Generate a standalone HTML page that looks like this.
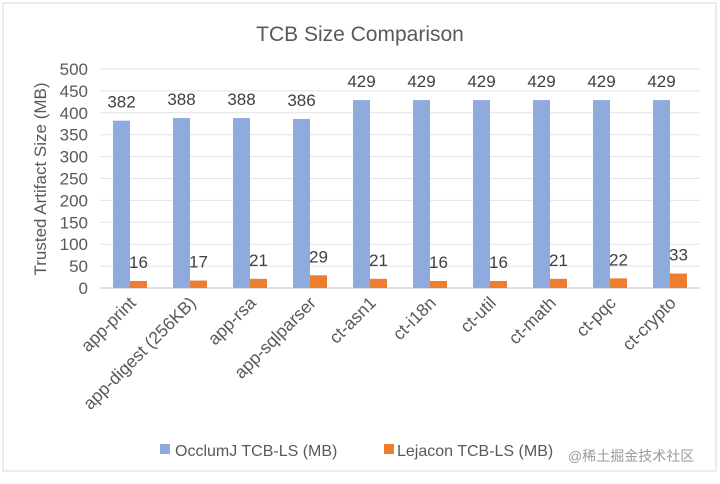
<!DOCTYPE html>
<html><head><meta charset="utf-8"><style>
body{margin:0;background:#fff;font-family:"Liberation Sans","Noto Sans CJK SC",sans-serif}
svg text{font-family:"Liberation Sans","Noto Sans CJK SC",sans-serif}
</style></head><body>
<svg id="c" width="720" height="479">
<rect x="3" y="3" width="713" height="468" fill="#fff" stroke="#d9d9d9"/>
<text x="360" y="41" text-anchor="middle" font-size="21" fill="#595959">TCB Size Comparison</text>
<text transform="translate(46,179) rotate(-90)" text-anchor="middle" font-size="17" fill="#595959">Trusted Artifact Size (MB)</text>
<g id="grid"></g><g id="bars"></g><g id="labels"></g>
<rect x="160" y="444" width="10" height="10" fill="#8faadc"/>
<text x="175" y="456" font-size="16" fill="#595959">OcclumJ TCB-LS (MB)</text>
<rect x="384" y="444" width="10" height="10" fill="#ed7d31"/>
<text x="397" y="456" font-size="16" fill="#595959">Lejacon TCB-LS (MB)</text>
<text x="568" y="461" font-size="14" fill="#9a9a9a">@稀土掘金技术社区</text>
</svg>
<script>
const categories=["app-print","app-digest (256KB)","app-rsa","app-sqlparser","ct-asn1","ct-i18n","ct-util","ct-math","ct-pqc","ct-crypto"];
const occlumj=[382,388,388,386,429,429,429,429,429,429];
const lejacon=[16,17,21,29,21,16,16,21,22,33];
const yTicks=[0,50,100,150,200,250,300,350,400,450,500];
const NS="http://www.w3.org/2000/svg";
const L=100,R=700,Y0=288,Y1=69,MAX=500;
const y=v=>Y0-(v/MAX)*(Y0-Y1);
const bw=(R-L)/categories.length;
const x=i=>L+bw*(i+0.5);
function mk(t,a,p){const e=document.createElementNS(NS,t);for(const k in a)e.setAttribute(k,a[k]);document.getElementById(p).appendChild(e);return e;}
yTicks.forEach(v=>{
 const g=mk("line",{x1:L,x2:R,y1:y(v),y2:y(v),stroke:v===0?"#bfbfbf":"#e3e3e3"},"grid");
 
 
 const t=mk("text",{x:88,y:y(v)+6,"text-anchor":"end","font-size":"17",fill:"#595959"},"grid");
 t.textContent=v;
 
 
});
categories.forEach((c,i)=>{
 const cx=x(i),w=17;
 const b1=mk("rect",{x:cx-w,y:y(occlumj[i]),width:w,height:Y0-y(occlumj[i]),fill:"#8faadc"},"bars");
 
 
 const b2=mk("rect",{x:cx,y:y(lejacon[i]),width:w,height:Y0-y(lejacon[i]),fill:"#ed7d31"},"bars");
 
 
 const l1=mk("text",{x:cx-w/2,y:y(occlumj[i])-13,"text-anchor":"middle","font-size":"17",fill:"#404040"},"labels");
 l1.textContent=occlumj[i];
 
 
 const l2=mk("text",{x:cx+w/2,y:y(lejacon[i])-13,"text-anchor":"middle","font-size":"17",fill:"#404040"},"labels");
 l2.textContent=lejacon[i];
 
 
 const cl=mk("text",{transform:`translate(${cx+7},${Y0+16}) rotate(-45)`,"text-anchor":"end","font-size":"17.5",fill:"#595959"},"labels");
 cl.textContent=c;
 
 
});
</script>
</body></html>
